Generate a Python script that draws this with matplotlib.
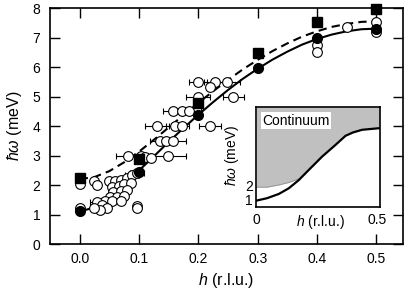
import matplotlib
matplotlib.use("Agg")
import matplotlib.pyplot as plt

plt.rcParams["font.family"] = ["Liberation Sans", "DejaVu Sans"]
plt.rcParams["mathtext.fontset"] = "custom"
plt.rcParams["mathtext.rm"] = "Liberation Sans"
plt.rcParams["mathtext.it"] = "Liberation Sans:italic"

# filled circles and squares (main dispersion points)
filled_h = [0.0, 0.1, 0.2, 0.3, 0.4, 0.5]
filled_E = [1.12, 2.45, 4.37, 5.95, 6.97, 7.28]
square_h = [0.0, 0.1, 0.2, 0.3, 0.4, 0.5]
square_E = [2.23, 2.88, 4.77, 6.46, 7.52, 7.97]

# open circles with horizontal error (0 = no bar)
open_h = [0.0, 0.0, 0.025, 0.029, 0.049, 0.060, 0.069, 0.079, 0.088, 0.097,
          0.055, 0.066, 0.074, 0.086, 0.057, 0.069, 0.080, 0.052, 0.063, 0.074,
          0.043, 0.055, 0.069, 0.029, 0.038, 0.046, 0.035, 0.024, 0.097, 0.097,
          0.082, 0.104, 0.110, 0.121, 0.149,
          0.135, 0.146, 0.158,
          0.130, 0.160, 0.172, 0.220,
          0.158, 0.172, 0.185,
          0.200, 0.259,
          0.200, 0.228, 0.248, 0.220,
          0.4, 0.4, 0.45, 0.5, 0.5]
open_E = [2.05, 1.22, 2.14, 2.00, 2.14, 2.14, 2.17, 2.23, 2.34, 2.40,
          1.94, 1.98, 2.02, 2.06, 1.77, 1.80, 1.83, 1.60, 1.60, 1.64,
          1.46, 1.46, 1.46, 1.43, 1.32, 1.21, 1.15, 1.21, 1.30, 1.21,
          2.98, 3.00, 2.95, 2.90, 2.98,
          3.48, 3.48, 3.48,
          4.00, 4.00, 4.00, 4.00,
          4.50, 4.50, 4.50,
          5.00, 5.00,
          5.50, 5.50, 5.50, 5.31,
          6.75, 6.52, 7.37, 7.54, 7.20]
open_err = [0, 0, 0, 0, 0, 0, 0, 0, 0.012, 0.012,
            0, 0, 0, 0, 0, 0, 0, 0, 0, 0,
            0, 0, 0, 0.012, 0, 0, 0, 0, 0, 0,
            0.02, 0, 0, 0, 0.03,
            0.017, 0, 0.022,
            0.02, 0.015, 0.012, 0.018,
            0.018, 0, 0.02,
            0.02, 0.018,
            0.015, 0.018, 0.022, 0]

# curves
curve_h = [0.0, 0.025, 0.05, 0.075, 0.1, 0.125, 0.15, 0.175, 0.2, 0.225, 0.25,
           0.275, 0.3, 0.325, 0.35, 0.375, 0.4, 0.425, 0.45, 0.475, 0.5]
solid_E = [1.10, 1.24, 1.58, 2.01, 2.49, 2.97, 3.46, 3.93, 4.38, 4.81, 5.22,
           5.60, 5.94, 6.25, 6.52, 6.76, 6.95, 7.10, 7.21, 7.28, 7.30]
dashed_E = [2.20, 2.27, 2.47, 2.77, 3.13, 3.53, 3.95, 4.37, 4.78, 5.18, 5.56,
            5.92, 6.24, 6.54, 6.80, 7.03, 7.21, 7.36, 7.46, 7.53, 7.55]

# inset
inset_h = [0.0, 0.044, 0.093, 0.134, 0.176, 0.19, 0.217, 0.272, 0.328, 0.369,
           0.40, 0.438, 0.51]
inset_E = [1.0, 1.18, 1.5, 1.92, 2.54, 2.8, 3.29, 4.28, 5.16, 5.83,
           6.08, 6.28, 6.40]
edge_E = [2.0, 2.0, 2.17, 2.35, 2.62, 2.8, 3.29, 4.28, 5.16, 5.83,
          6.08, 6.28, 6.40]

fig = plt.figure(figsize=(4.09, 2.91), dpi=100)
ax = fig.add_axes([0.1222, 0.1615, 0.8631, 0.811])

ax.plot(curve_h, solid_E, color="black", lw=1.5, zorder=2)
ax.plot(curve_h, dashed_E, color="black", lw=1.5, ls=(0, (4, 2.5)), zorder=2)

eh = [h for h, e in zip(open_h, open_err) if e > 0]
eE = [E for E, e in zip(open_E, open_err) if e > 0]
ee = [e for e in open_err if e > 0]
ax.errorbar(eh, eE, xerr=ee, fmt="none", ecolor="black", elinewidth=0.8,
            capsize=2.5, capthick=0.8, zorder=2.5)
ax.plot(open_h, open_E, "o", mfc="white", mec="black", mew=0.8, ms=7,
        ls="none", zorder=3)
ax.plot(filled_h, filled_E, "o", color="black", ms=7, ls="none", zorder=4)
ax.plot(square_h, square_E, "s", color="black", ms=6.5, ls="none", zorder=4,
        clip_on=False)

ax.set_xlim(-0.05, 0.545)
ax.set_ylim(0, 8)
ax.set_xticks([0.0, 0.1, 0.2, 0.3, 0.4, 0.5])
ax.set_yticks(range(0, 9))
ax.tick_params(direction="in", length=7, width=1, top=True, right=True,
               labelsize=10)
ax.tick_params(axis="y", pad=7)
ax.tick_params(axis="x", pad=5.5)
for s in ax.spines.values():
    s.set_linewidth(1.2)
ax.set_xlabel(r"$h$ (r.l.u.)", fontsize=11.5, labelpad=4)
ax.set_ylabel(r"$\hbar\omega$ (meV)", fontsize=11.5, labelpad=6)

# inset
ins = fig.add_axes([0.6271, 0.2876, 0.3008, 0.3457])
ins.fill_between(inset_h, edge_E, 8.0, color="#c0c0c0", lw=0)
ins.plot(inset_h[:6], edge_E[:6], color="#909090", lw=0.6)
ins.plot(inset_h, inset_E, color="black", lw=1.6)
ins.set_xlim(0, 0.51)
ins.set_ylim(0.5, 8.0)
ins.set_xticks([])
ins.set_yticks([])
for s in ins.spines.values():
    s.set_linewidth(1.2)
ins.text(0.0, -0.06, "0", transform=ins.transAxes, ha="center", va="top",
         fontsize=10)
ins.text(0.98, -0.06, "0.5", transform=ins.transAxes, ha="center", va="top",
         fontsize=10)
ins.text(0.52, -0.06, r"$h$ (r.l.u.)", transform=ins.transAxes, ha="center",
         va="top", fontsize=10)
ins.text(-0.03, 1.0, "1", transform=ins.get_yaxis_transform(), ha="right",
         va="center", fontsize=10)
ins.text(-0.03, 2.0, "2", transform=ins.get_yaxis_transform(), ha="right",
         va="center", fontsize=10)
ins.text(-0.2, 0.52, r"$\hbar\omega$ (meV)", transform=ins.transAxes,
         rotation=90, ha="center", va="center", fontsize=10)
ins.text(0.05, 0.86, "Continuum", transform=ins.transAxes, ha="left",
         va="center", fontsize=10,
         bbox=dict(facecolor="white", edgecolor="none", pad=1))

fig.savefig("out.png", dpi=100)
